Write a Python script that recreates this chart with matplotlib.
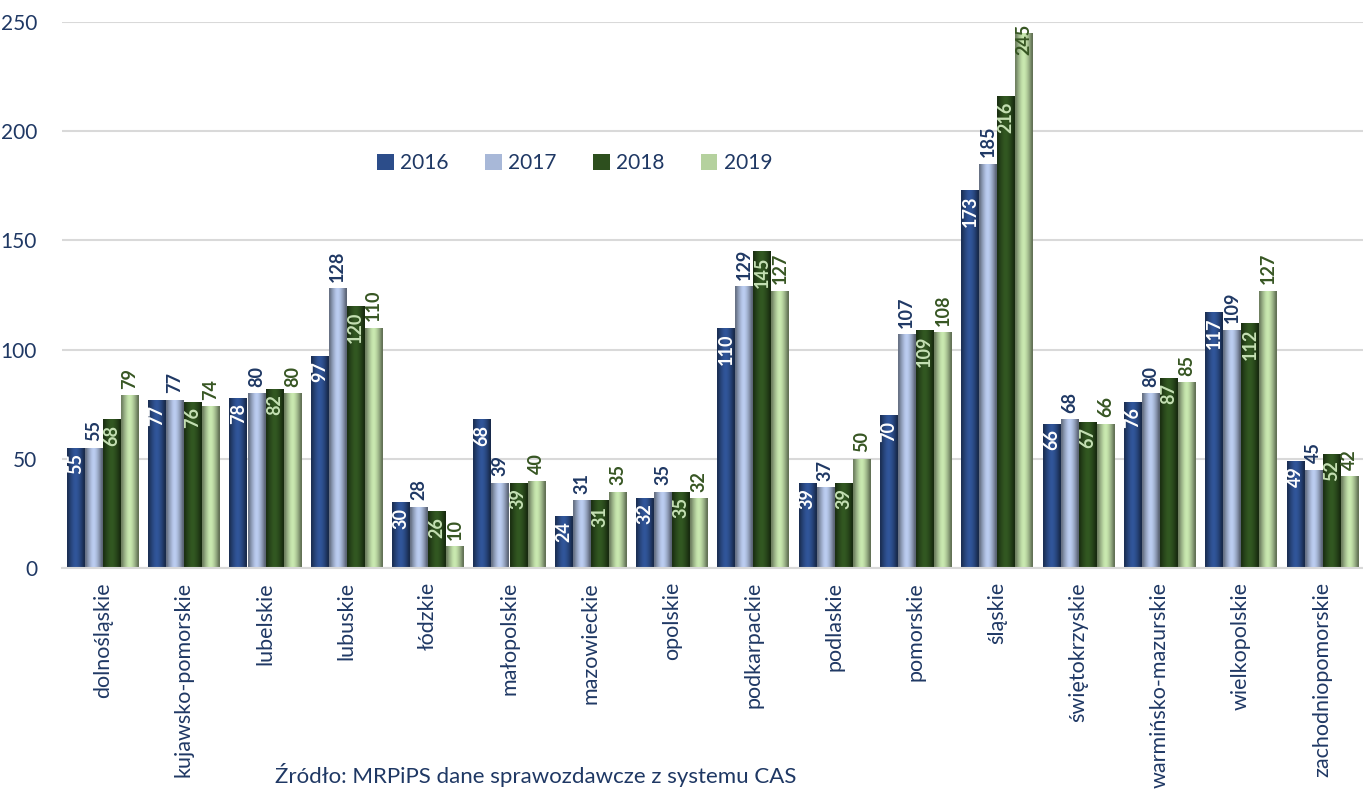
import matplotlib
matplotlib.use("Agg")
import matplotlib.pyplot as plt
import numpy as np
from matplotlib.colors import to_rgb

regions = ["dolnośląskie", "kujawsko-pomorskie", "lubelskie", "lubuskie", "łódzkie",
           "małopolskie", "mazowieckie", "opolskie", "podkarpackie", "podlaskie",
           "pomorskie", "śląskie", "świętokrzyskie", "warmińsko-mazurskie",
           "wielkopolskie", "zachodniopomorskie"]
years = ["2016", "2017", "2018", "2019"]
v2016 = [55, 77, 78, 97, 30, 68, 24, 32, 110, 39, 70, 173, 66, 76, 117, 49]
v2017 = [55, 77, 80, 128, 28, 39, 31, 35, 129, 37, 107, 185, 68, 80, 109, 45]
v2018 = [68, 76, 82, 120, 26, 39, 31, 35, 145, 39, 109, 216, 67, 87, 112, 52]
v2019 = [79, 74, 80, 110, 10, 40, 35, 32, 127, 50, 108, 245, 66, 85, 127, 42]
series = [v2016, v2017, v2018, v2019]
yticks = [0, 50, 100, 150, 200, 250]

colors = ["#2C4D8A", "#A8B8D8", "#2D4F1E", "#B5D19E"]
label_colors = ["white", "#1F3864", "#C5E0B4", "#375623"]
label_inside = [True, False, True, False]
text_col = "#1F3864"

plt.rcParams["font.family"] = ["Lato", "DejaVu Sans"]

fig = plt.figure(figsize=(13.63, 7.96), dpi=100)
ax = fig.add_axes([0.0455, 0.2864, 0.9545, 0.686])

x = np.arange(len(regions))
bw = 0.222
profile = np.array([0.62, 0.8, 0.95, 1.08, 1.12, 1.05, 0.92, 0.75, 0.55])

for k, vals in enumerate(series):
    pos = x + (k - 1.5) * bw
    bars = ax.bar(pos, vals, width=bw * 0.97, color=colors[k], zorder=2, label=years[k],
                  edgecolor="none")
    base = np.array(to_rgb(colors[k]))
    grad = np.clip(base[None, :] * profile[:, None], 0, 1)[None, :, :]
    for rect, v in zip(bars, vals):
        im = ax.imshow(grad, extent=[rect.get_x(), rect.get_x() + rect.get_width(), 0, v],
                       aspect="auto", zorder=2.1, interpolation="bilinear")
        im.set_clip_path(rect)
        xc = rect.get_x() + rect.get_width() / 2
        if label_inside[k]:
            ax.text(xc, v - 2.5, str(v), rotation=90, ha="center", va="top",
                    color=label_colors[k], fontsize=13, fontweight="bold", zorder=4)
        else:
            # keep labels of the tallest bars inside the plot, as Excel does
            ax.text(xc, min(v + 3, 235), str(v), rotation=90, ha="center", va="bottom",
                    color=label_colors[k], fontsize=13, fontweight="bold", zorder=4)

ax.set_xlim(-0.5, 15.5)
ax.set_ylim(0, 250)
ax.set_yticks(yticks)
ax.yaxis.grid(True, color="#D9D9D9", lw=1.5, zorder=0)
ax.set_axisbelow(True)
ax.set_xticks(x)
ax.set_xticklabels(regions, rotation=90, fontsize=15.5, color=text_col)
ax.tick_params(axis="y", labelsize=15, labelcolor=text_col, length=0, pad=18)
ax.tick_params(axis="x", length=0, pad=10)
for s in ["top", "right", "left"]:
    ax.spines[s].set_visible(False)
ax.spines["bottom"].set_color("#D9D9D9")
ax.spines["bottom"].set_linewidth(1.5)

leg = ax.legend(loc="center", bbox_to_anchor=(0.394, 0.742), ncol=4, frameon=False,
                fontsize=15, columnspacing=1.75, handlelength=0.8, handleheight=0.8,
                handletextpad=0.3)
for t in leg.get_texts():
    t.set_color(text_col)

fig.text(275 / 1363, 1 - 775 / 796, "Źródło: MRPiPS dane sprawozdawcze z systemu CAS",
         fontsize=16, color=text_col, va="center", ha="left")

fig.savefig("out.png", dpi=100)
